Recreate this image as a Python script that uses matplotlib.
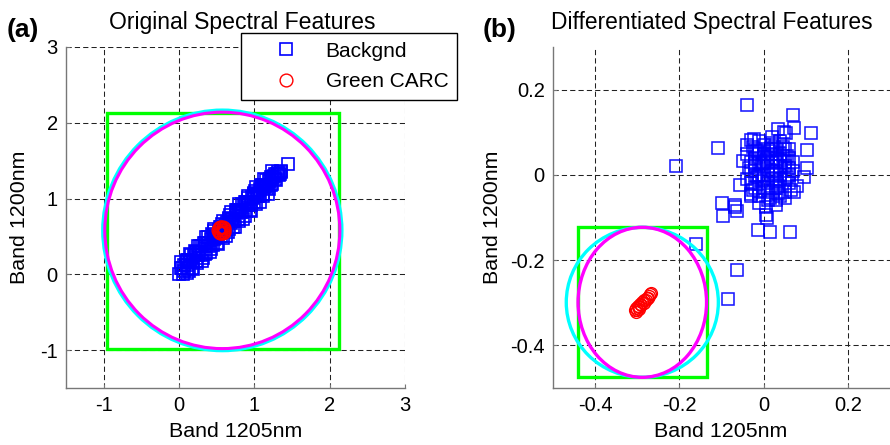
import matplotlib
matplotlib.use("Agg")
import matplotlib.pyplot as plt
from matplotlib.patches import Rectangle, Ellipse

plt.rcParams["font.family"] = ["Liberation Sans", "DejaVu Sans"]
plt.rcParams["axes.unicode_minus"] = False

# ---- panel (a): original spectral features ----
bg_a_x = [0.00, 0.04, 0.07, 0.10, 0.06, 0.12, 0.15, 0.11, 0.18, 0.20, 0.16, 0.23, 0.26, 0.22, 0.29,
          0.31, 0.27, 0.34, 0.37, 0.33, 0.40, 0.42, 0.38, 0.45, 0.48, 0.44, 0.51, 0.53, 0.49, 0.56,
          0.59, 0.55, 0.62, 0.64, 0.60, 0.67, 0.70, 0.66, 0.73, 0.75, 0.71, 0.78, 0.81, 0.77, 0.84,
          0.86, 0.82, 0.89, 0.92, 0.88, 0.95, 0.97, 0.93, 1.00, 1.03, 0.99, 1.06, 1.08, 1.04, 1.11,
          1.14, 1.10, 1.17, 1.19, 1.15, 1.22, 1.25, 1.21, 1.28, 1.30, 1.26, 1.33, 1.35, 1.31, 1.45,
          0.02, 0.05, 0.09, 0.13, 0.14, 0.17, 0.21, 0.24, 0.25, 0.28, 0.32, 0.35, 0.36, 0.39, 0.43,
          0.46, 0.47, 0.50, 0.54, 0.57, 0.58, 0.61, 0.65, 0.68, 0.69, 0.72, 0.76, 0.79, 0.80, 0.83,
          0.87, 0.90, 0.91, 0.94, 0.98, 1.01, 1.02, 1.05, 1.09, 1.12, 1.13, 1.16, 1.20, 1.23, 1.24,
          1.27, 1.29, 1.32, 1.34, 1.36,
          0.10, 0.19, 0.30, 0.41, 0.52, 0.63, 0.74, 0.85, 0.96, 1.07, 1.18,
          0.03, 0.14, 0.25, 0.36, 0.47, 0.58, 0.69, 0.80, 0.91, 1.02, 1.13, 1.24,
          0.12, 0.23, 0.34, 0.45, 0.56, 0.67, 0.78, 0.89, 1.00, 1.11, 1.22]
bg_a_y = [0.00, 0.09, 0.04, 0.12, 0.12, 0.07, 0.19, 0.19, 0.16, 0.25, 0.25, 0.17, 0.29, 0.29, 0.25,
          0.37, 0.28, 0.27, 0.41, 0.41, 0.37, 0.47, 0.40, 0.39, 0.51, 0.53, 0.49, 0.59, 0.49, 0.51,
          0.63, 0.63, 0.58, 0.69, 0.61, 0.60, 0.73, 0.73, 0.70, 0.81, 0.73, 0.73, 0.85, 0.85, 0.82,
          0.91, 0.82, 0.83, 0.95, 0.95, 0.91, 1.02, 0.94, 0.95, 1.06, 1.06, 1.03, 1.13, 1.04, 1.06,
          1.17, 1.16, 1.14, 1.23, 1.16, 1.18, 1.28, 1.26, 1.26, 1.32, 1.30, 1.31, 1.35, 1.33, 1.45,
          0.08, 0.00, 0.18, 0.05, 0.16, 0.08, 0.31, 0.15, 0.25, 0.38, 0.22, 0.38, 0.28, 0.49, 0.33,
          0.47, 0.57, 0.41, 0.56, 0.67, 0.48, 0.65, 0.56, 0.78, 0.68, 0.62, 0.85, 0.71, 0.83, 0.93,
          0.77, 0.92, 1.01, 0.85, 1.01, 1.10, 0.93, 1.06, 1.18, 1.04, 1.15, 1.24, 1.12, 1.29, 1.19,
          1.32, 1.25, 1.35, 1.32, 1.37,
          0.02, 0.07, 0.18, 0.29, 0.40, 0.51, 0.62, 0.73, 0.84, 0.95, 1.06,
          0.16, 0.27, 0.38, 0.49, 0.60, 0.71, 0.82, 0.93, 1.04, 1.15, 1.26, 1.37,
          0.19, 0.30, 0.41, 0.52, 0.63, 0.74, 0.85, 0.96, 1.07, 1.18, 1.29]
carc_a_x = [0.600, 0.595, 0.580, 0.560, 0.540, 0.525, 0.520, 0.525, 0.540, 0.560, 0.580, 0.595]
carc_a_y = [0.585, 0.607, 0.624, 0.629, 0.624, 0.607, 0.585, 0.563, 0.546, 0.541, 0.546, 0.563]

box_a = [-0.96, -0.99, 3.09, 3.12]          # x0, y0, width, height
circ_a_center = [0.575, 0.58]
circ_a_cyan = [3.17, 3.17]
circ_a_magenta = [3.12, 3.12]

# ---- panel (b): differentiated spectral features ----
bg_b_x = [0.00, 0.02, 0.01, -0.01, 0.03, 0.04, -0.02, 0.05, 0.00, 0.02,
          -0.03, 0.06, 0.01, -0.01, 0.03, 0.04, -0.02, 0.05, 0.00, 0.02,
          -0.03, 0.06, 0.01, -0.01, 0.03, 0.04, -0.02, 0.05, 0.00, 0.02,
          -0.04, 0.07, 0.01, -0.01, 0.03, 0.04, -0.03, 0.06, 0.00, 0.02,
          -0.02, 0.05, 0.01, -0.04, 0.03, 0.04, -0.01, 0.07, 0.00, 0.02,
          -0.03, 0.06, 0.01, -0.02, 0.03, 0.05, -0.04, 0.02, -0.01, 0.04,
          -0.035, -0.025, -0.015, -0.005, 0.005, 0.015, 0.025, 0.035, 0.045, 0.055,
          -0.03, -0.02, -0.01, 0.00, 0.01, 0.02, 0.03, 0.04, 0.05, 0.06,
          -0.025, -0.015, -0.005, 0.005, 0.015, 0.025, 0.035, 0.045, 0.055, 0.065,
          -0.207, -0.108, -0.040, 0.070, 0.112, 0.071, 0.035, 0.054, -0.029, 0.104,
          0.102, -0.048, -0.055, -0.067, -0.064, -0.100, -0.069, -0.096, 0.005, 0.007,
          -0.013, 0.014, 0.063, 0.030, 0.072, 0.079, 0.095, -0.160, -0.064, -0.084,
          -0.023, 0.048]
bg_b_y = [0.00, 0.01, -0.02, 0.03, 0.04, -0.01, -0.03, 0.02, 0.05, -0.04,
          0.01, 0.00, 0.06, -0.05, -0.03, 0.05, 0.04, -0.04, -0.01, 0.03,
          -0.02, 0.04, 0.02, 0.00, 0.01, 0.02, 0.06, 0.06, 0.07, 0.07,
          0.05, 0.01, -0.06, -0.04, 0.06, -0.05, 0.03, -0.02, 0.03, -0.01,
          0.00, 0.03, 0.04, -0.01, -0.06, 0.08, 0.08, 0.03, -0.03, 0.05,
          -0.05, 0.06, 0.00, 0.02, 0.03, -0.01, 0.07, 0.09, 0.05, 0.00,
          0.015, -0.035, 0.055, -0.015, 0.035, -0.055, 0.065, -0.025, 0.045, -0.005,
          -0.045, 0.025, -0.065, 0.045, -0.035, 0.075, -0.015, 0.035, -0.055, 0.015,
          0.065, -0.005, 0.025, -0.075, 0.055, 0.005, -0.045, 0.065, 0.045, -0.035,
          0.020, 0.062, 0.163, 0.140, 0.098, 0.111, 0.107, 0.099, 0.081, 0.058,
          0.015, 0.032, -0.024, -0.075, -0.085, -0.067, -0.071, -0.097, -0.094, -0.100,
          -0.130, -0.134, -0.134, -0.071, -0.040, -0.025, -0.005, -0.162, -0.223, -0.292,
          0.085, 0.100]
carc_b_x = [-0.305, -0.302, -0.300, -0.298, -0.295, -0.293, -0.290, -0.288, -0.285,
            -0.283, -0.280, -0.278, -0.275, -0.272, -0.270, -0.267, -0.303, -0.296]
carc_b_y = [-0.318, -0.312, -0.316, -0.308, -0.310, -0.303, -0.305, -0.298, -0.300,
            -0.293, -0.294, -0.288, -0.289, -0.283, -0.280, -0.277, -0.322, -0.314]

box_b = [-0.441, -0.475, 0.307, 0.352]
ell_b_center = [-0.288, -0.299]
ell_b_cyan = [0.361, 0.352]
ell_b_magenta = [0.305, 0.352]


def style_axes(ax, xlim, ylim, xticks, yticks):
    ax.set_xlim(*xlim)
    ax.set_ylim(*ylim)
    ax.set_xticks(xticks)
    ax.set_yticks(yticks)
    ax.grid(True, color="#222222", lw=0.75, linestyle=(0, (5, 3)))
    ax.set_axisbelow(True)
    for s in ["top", "right"]:
        ax.spines[s].set_visible(False)
    for s in ["left", "bottom"]:
        ax.spines[s].set_color("#777777")
        ax.spines[s].set_linewidth(1.0)
    ax.tick_params(direction="in", length=3, color="#777777", labelsize=14.5, pad=6)


fig = plt.figure(figsize=(8.9, 4.45), dpi=100)
ax1 = fig.add_axes([66 / 890, 57 / 445, 339 / 890, 341 / 445])
ax2 = fig.add_axes([553 / 890, 57 / 445, 337 / 890, 341 / 445])

# (a)
ax1.plot(bg_a_x, bg_a_y, "s", color="#0000ff", mfc="none", ms=9, mew=1.2, label="Backgnd", zorder=3)
ax1.plot(carc_a_x, carc_a_y, "o", color="#ff0000", mfc="none", ms=9.2, mew=1.0, label="Green CARC", zorder=4)
ax1.add_patch(Rectangle(box_a[:2], box_a[2], box_a[3], fill=False, ec="#00ff00", lw=2.4, zorder=2))
ax1.add_patch(Ellipse(circ_a_center, *circ_a_cyan, fill=False, ec="#00ffff", lw=2.6, zorder=2))
ax1.add_patch(Ellipse(circ_a_center, *circ_a_magenta, fill=False, ec="#ff00ff", lw=2.2, zorder=2))
style_axes(ax1, (-1.5, 3), (-1.5, 3), [-1, 0, 1, 2, 3], [-1, 0, 1, 2, 3])
ax1.set_title("Original Spectral Features", fontsize=16.6, x=0.519, pad=12.7)
ax1.set_xlabel("Band 1205nm", fontsize=15.4)
ax1.set_ylabel("Band 1200nm", fontsize=15.4)
ax1.xaxis.set_label_coords(0.5, -0.10)
ax1.yaxis.set_label_coords(-0.109, 0.5)
leg = ax1.legend(loc="upper left", bbox_to_anchor=(0.516, 1.041), borderaxespad=0,
                 fontsize=15, handlelength=3.5, handletextpad=0.15, labelspacing=0.55,
                 borderpad=0.42, fancybox=False, framealpha=1)
leg.get_frame().set_edgecolor("black")
leg.get_frame().set_linewidth(1.0)
leg.set_zorder(10)

# (b)
ax2.plot(bg_b_x, bg_b_y, "s", color="#0000ff", mfc="none", ms=9, mew=1.15, alpha=0.9, zorder=2)
ax2.plot(carc_b_x, carc_b_y, "o", color="#ff0000", mfc="none", ms=8.5, mew=1.0, zorder=2)
ax2.add_patch(Rectangle(box_b[:2], box_b[2], box_b[3], fill=False, ec="#00ff00", lw=2.4, zorder=3))
ax2.add_patch(Ellipse(ell_b_center, *ell_b_cyan, fill=False, ec="#00ffff", lw=2.4, zorder=3))
ax2.add_patch(Ellipse(ell_b_center, *ell_b_magenta, fill=False, ec="#ff00ff", lw=2.4, zorder=3))
style_axes(ax2, (-0.5, 0.3), (-0.5, 0.3), [-0.4, -0.2, 0, 0.2], [-0.4, -0.2, 0, 0.2])
ax2.set_xticklabels(["-0.4", "-0.2", "0", "0.2"])
ax2.set_yticklabels(["-0.4", "-0.2", "0", "0.2"])
ax2.set_title("Differentiated Spectral Features", fontsize=16.4, x=0.472, pad=13.2)
ax2.set_xlabel("Band 1205nm", fontsize=15.4)
ax2.set_ylabel("Band 1200nm", fontsize=15.4)
ax2.xaxis.set_label_coords(0.498, -0.10)
ax2.yaxis.set_label_coords(-0.151, 0.5)

fig.text(7 / 890, 1 - 36.5 / 445, "(a)", fontsize=19, fontweight="bold", va="baseline")
fig.text(483 / 890, 1 - 36.5 / 445, "(b)", fontsize=19, fontweight="bold", va="baseline")

fig.savefig("out.png", dpi=100)
